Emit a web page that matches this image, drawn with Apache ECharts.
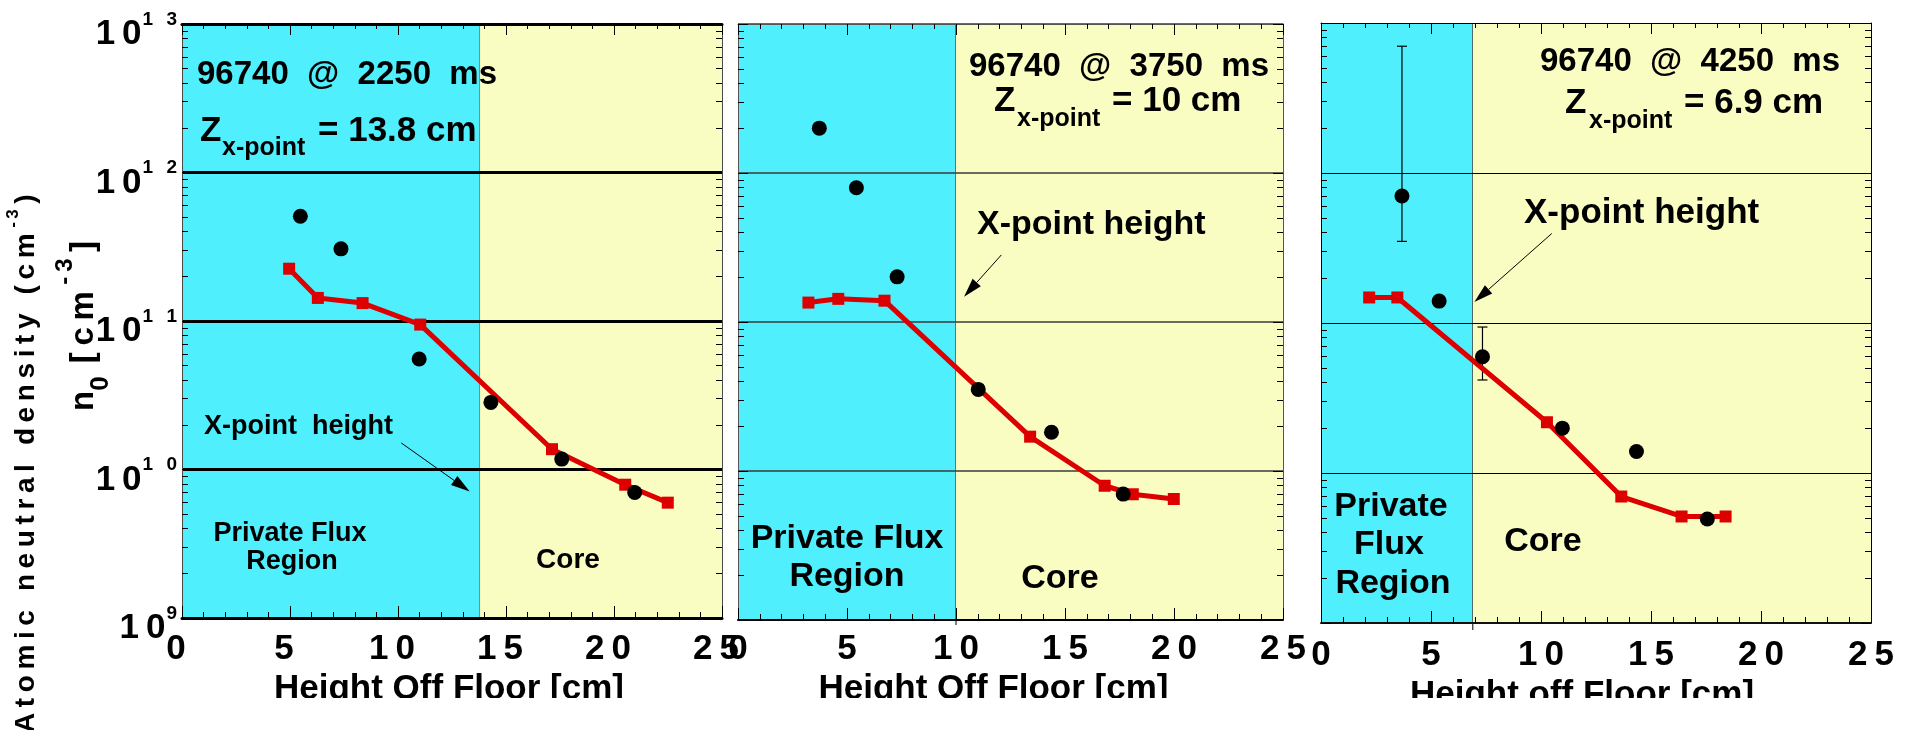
<!DOCTYPE html>
<html>
<head>
<meta charset="utf-8">
<title>Atomic neutral density vs height off floor, shot 96740</title>
<script src="https://cdn.jsdelivr.net/npm/echarts@6/dist/echarts.min.js"></script>
<style>
  html, body { margin: 0; padding: 0; background: #ffffff; }
  #chart { width: 1912px; height: 730px; }
</style>
</head>
<body>
<div id="chart"></div>
<script>
// ---- Shot 96740: height off floor [cm] vs atomic neutral density n0 [cm^-3] ----
const shot = '96740';
const timesMs = ['2250', '3750', '4250'];
const xpointCm = [13.8, 10, 6.9];          // X-point height of each time slice

// 2250 ms
const model2250X = [4.96, 6.29, 8.36, 11.03, 17.13, 20.52, 22.49];
const model2250N = [2.25e11, 1.43e11, 1.32e11, 9.46e10, 1.37e10, 7.9e9, 5.98e9];
const meas2250X  = [5.48, 7.36, 10.98, 14.30, 17.58, 20.96];
const meas2250N  = [5.08e11, 3.06e11, 5.55e10, 2.83e10, 1.175e10, 7.0e9];

// 3750 ms
const model3750X = [3.23, 4.60, 6.72, 13.40, 16.82, 18.11, 19.99];
const model3750N = [1.35e11, 1.43e11, 1.39e11, 1.70e10, 7.96e9, 6.98e9, 6.49e9];
const meas3750X  = [3.73, 5.43, 7.30, 11.02, 14.38, 17.67];
const meas3750N  = [2.0e12, 7.96e11, 2.01e11, 3.53e10, 1.82e10, 7.0e9];

// 4250 ms
const model4250X = [2.19, 3.47, 10.27, 13.65, 16.39, 18.39];
const model4250N = [1.48e11, 1.48e11, 2.18e10, 6.97e9, 5.13e9, 5.13e9];
const meas4250X  = [3.68, 5.37, 7.34, 10.97, 14.34, 17.56];
const meas4250N  = [7.03e11, 1.40e11, 5.96e10, 1.99e10, 1.39e10, 4.94e9];
const err4250X    = [3.68, 7.34];
const err4250Low  = [3.5e11, 4.17e10];
const err4250High = [7.0e12, 9.4e10];

// Axis ranges and the labelled density decades
const X_MIN = 0, X_MAX = 25, X_INTERVAL = 5;
const N_MIN = 1e9, N_MAX = 1e13;
const densityTicks = [1e9, 1e10, 1e11, 1e12, 1e13];

// "X-point height" pointer arrows: [from x, from n, to x, to n]
const arrow2250 = [10.15, 1.51e10, 13.32, 7.11e9];
const arrow3750 = [12.08, 2.82e11, 10.37, 1.48e11];
const arrow4250 = [10.49, 3.95e11, 6.97, 1.38e11];

// ---- Styling ----
const FONT = '"Liberation Sans", Arial, Helvetica, sans-serif';
const CYAN = '#4FEFFD';
const YELLOW = '#FAFDC2';
const RED = '#DD0000';
const THIN = '\u2009';
const MID = 0.25;   // distance from a text's middle line down to its baseline, in em

function pairs(xs, ys) { return xs.map((x, i) => [x, ys[i]]); }
function spaced(s, gap) { return Array.from(s).join(gap); }

const measureCtx = document.createElement('canvas').getContext('2d');
function textWidth(str, font) { measureCtx.font = font; return measureCtx.measureText(str).width; }

const panels = [
  {
    grid: { left: 182, top: 24, width: 540, height: 594 },
    model: pairs(model2250X, model2250N), meas: pairs(meas2250X, meas2250N), arrow: arrow2250,
    bottom: { color: '#000', width: 3 }, top: { color: '#000', width: 3 },
    side: { color: '#4a4a4a', width: 1 }, split: { color: '#000', width: 3 },
    divider: { color: '#3c3c3c', width: 1 }, dividerExt: 1,
    labelMargin: 14, labelPadding: [0, 12, 0, 0], nameGap: 49, namePadding: [0, 6, 0, 0],
    xName: 'Height Off Floor [cm]'
  },
  {
    grid: { left: 738, top: 24, width: 545, height: 596 },
    model: pairs(model3750X, model3750N), meas: pairs(meas3750X, meas3750N), arrow: arrow3750,
    bottom: { color: '#000', width: 2 }, top: { color: '#555', width: 1 },
    side: { color: '#555', width: 1 }, split: { color: '#3a3a3a', width: 1.5 },
    divider: { color: '#555', width: 1.5 }, dividerExt: 5,
    labelMargin: 12, labelPadding: 0, nameGap: 38, namePadding: [0, 34, 0, 0],
    xName: 'Height Off Floor [cm]'
  },
  {
    grid: { left: 1321, top: 23, width: 550, height: 600 },
    model: pairs(model4250X, model4250N), meas: pairs(meas4250X, meas4250N), arrow: arrow4250,
    bottom: { color: '#111', width: 2 }, top: { color: '#000', width: 1 },
    side: { color: '#000', width: 1 }, split: { color: '#000', width: 1 },
    divider: { color: '#000', width: 1 }, dividerExt: 7,
    labelMargin: 15, labelPadding: 0, nameGap: 50, namePadding: [0, 28, 0, 0],
    xName: 'Height off Floor [cm]'
  }
];

// Shaded private-flux / core regions and the X-point divider
function regionRenderer(p) {
  return function (params, api) {
    const a = api.coord([api.value(0), api.value(1)]);
    const b = api.coord([api.value(2), api.value(3)]);
    const rect = {
      type: 'rect',
      shape: { x: a[0], y: b[1], width: b[0] - a[0], height: a[1] - b[1] },
      style: { fill: params.dataIndex === 0 ? CYAN : YELLOW }
    };
    if (params.dataIndex !== 0) return rect;
    return {
      type: 'group',
      children: [rect, {
        type: 'line',
        shape: { x1: b[0], y1: b[1], x2: b[0], y2: a[1] + p.dividerExt },
        style: { stroke: p.divider.color, lineWidth: p.divider.width }
      }]
    };
  };
}

function arrowRenderer(params, api) {
  const s = api.coord([api.value(0), api.value(1)]);
  const t = api.coord([api.value(2), api.value(3)]);
  const dx = t[0] - s[0], dy = t[1] - s[1];
  const len = Math.hypot(dx, dy);
  const ux = dx / len, uy = dy / len;
  const head = 19, half = 5.5;
  const bx = t[0] - ux * head, by = t[1] - uy * head;
  return {
    type: 'group',
    children: [
      { type: 'line', shape: { x1: s[0], y1: s[1], x2: bx, y2: by }, style: { stroke: '#000', lineWidth: 1 } },
      { type: 'polygon', shape: { points: [[t[0], t[1]], [bx - uy * half, by + ux * half], [bx + uy * half, by - ux * half]] }, style: { fill: '#000' } }
    ]
  };
}

function errorBarRenderer(params, api) {
  const x = api.value(0);
  const lo = api.coord([x, api.value(1)]);
  const hi = api.coord([x, api.value(2)]);
  const c = 5;
  const st = { stroke: '#000', lineWidth: 1.2 };
  return {
    type: 'group',
    children: [
      { type: 'line', shape: { x1: lo[0], y1: lo[1], x2: hi[0], y2: hi[1] }, style: st },
      { type: 'line', shape: { x1: lo[0] - c, y1: lo[1], x2: lo[0] + c, y2: lo[1] }, style: st },
      { type: 'line', shape: { x1: hi[0] - c, y1: hi[1], x2: hi[0] + c, y2: hi[1] }, style: st }
    ]
  };
}

// Decade labels "10^n" beside the left axis of the first panel
const BASE_FONT = 'bold 35px ' + FONT;
const EXP_FONT = 'bold 19px ' + FONT;
function decadeLabelRenderer(params, api) {
  const v = api.value(1);
  const pt = api.coord([X_MIN, v]);
  const exp = spaced(String(Math.round(Math.log10(v))), '\u2002\u2009');
  const right = pt[0] - 5;
  const expW = textWidth(exp, EXP_FONT);
  return {
    type: 'group',
    children: [
      { type: 'text', x: right - expW - 1, y: pt[1] + 10.5,
        style: { text: spaced('10', THIN), font: BASE_FONT, fill: '#000', align: 'right', verticalAlign: 'middle' } },
      { type: 'text', x: right, y: pt[1] - 4.5,
        style: { text: exp, font: EXP_FONT, fill: '#000', align: 'right', verticalAlign: 'middle' } }
    ]
  };
}

const tickStyle = { color: '#000', width: 1 };
const option = {
  animation: false,
  backgroundColor: '#ffffff',
  grid: [], xAxis: [], yAxis: [], series: [], graphic: []
};

panels.forEach((p, i) => {
  option.grid.push(Object.assign({ show: false, containLabel: false, outerBoundsMode: 'none' }, p.grid));

  option.xAxis.push({
    type: 'value', gridIndex: i, position: 'bottom',
    min: X_MIN, max: X_MAX, interval: X_INTERVAL,
    axisLine: { show: true, onZero: false, lineStyle: p.bottom },
    axisTick: { show: true, inside: true, length: 12, lineStyle: tickStyle },
    minorTick: { show: true, splitNumber: 5, length: 6, lineStyle: tickStyle },
    splitLine: { show: false }, minorSplitLine: { show: false },
    axisLabel: {
      show: true, margin: p.labelMargin, padding: p.labelPadding,
      fontSize: 35, fontWeight: 'bold', fontFamily: FONT, color: '#000',
      formatter: v => spaced(String(v), THIN)
    },
    name: p.xName, nameLocation: 'middle', nameGap: p.nameGap,
    nameTextStyle: { fontSize: 35, fontWeight: 'bold', fontFamily: FONT, color: '#000', padding: p.namePadding }
  });
  option.xAxis.push({
    type: 'value', gridIndex: i, position: 'top',
    min: X_MIN, max: X_MAX, interval: X_INTERVAL,
    axisLine: { show: true, onZero: false, lineStyle: p.top },
    axisTick: { show: true, inside: true, length: 11, lineStyle: tickStyle },
    minorTick: { show: true, splitNumber: 5, length: 5, lineStyle: tickStyle },
    splitLine: { show: false }, axisLabel: { show: false }
  });

  option.yAxis.push({
    type: 'log', logBase: 10, gridIndex: i, position: 'left',
    min: N_MIN, max: N_MAX,
    axisLine: { show: true, onZero: false, lineStyle: p.side },
    axisTick: { show: true, inside: true, length: 10, lineStyle: tickStyle },
    minorTick: { show: true, splitNumber: 9, length: 6, lineStyle: tickStyle },
    splitLine: { show: true, lineStyle: p.split }, minorSplitLine: { show: false },
    axisLabel: { show: false }
  });
  option.yAxis.push({
    type: 'log', logBase: 10, gridIndex: i, position: 'right',
    min: N_MIN, max: N_MAX,
    axisLine: { show: true, onZero: false, lineStyle: p.side },
    axisTick: { show: true, inside: true, length: 10, lineStyle: tickStyle },
    minorTick: { show: true, splitNumber: 9, length: 6, lineStyle: tickStyle },
    splitLine: { show: false }, axisLabel: { show: false }
  });

  const xi = 2 * i, yi = 2 * i;
  option.series.push({
    type: 'custom', name: 'regions', xAxisIndex: xi, yAxisIndex: yi, z: -1, silent: true,
    encode: { x: [0, 2], y: [1, 3] },
    data: [[X_MIN, N_MIN, xpointCm[i], N_MAX], [xpointCm[i], N_MIN, X_MAX, N_MAX]],
    renderItem: regionRenderer(p)
  });
  option.series.push({
    type: 'line', name: 'model', xAxisIndex: xi, yAxisIndex: yi, z: 3,
    data: p.model, symbol: 'rect', symbolSize: 12, showSymbol: true,
    lineStyle: { color: RED, width: 5 }, itemStyle: { color: RED, opacity: 1 }
  });
  option.series.push({
    type: 'scatter', name: 'measured', xAxisIndex: xi, yAxisIndex: yi, z: 4,
    data: p.meas, symbol: 'circle', symbolSize: 15, itemStyle: { color: '#000', opacity: 1 }
  });
  option.series.push({
    type: 'custom', name: 'pointer', xAxisIndex: xi, yAxisIndex: yi, z: 5, silent: true,
    encode: { x: [0, 2], y: [1, 3] }, data: [p.arrow], renderItem: arrowRenderer
  });
});

option.series.push({
  type: 'custom', name: 'error', xAxisIndex: 4, yAxisIndex: 4, z: 3, silent: true,
  encode: { x: 0, y: [1, 2] },
  data: err4250X.map((x, k) => [x, err4250Low[k], err4250High[k]]),
  renderItem: errorBarRenderer
});

option.series.push({
  type: 'custom', name: 'decades', xAxisIndex: 0, yAxisIndex: 0, z: 6, silent: true, clip: false,
  encode: { x: 0, y: 1 },
  data: densityTicks.map(v => [X_MIN, v]),
  renderItem: decadeLabelRenderer
});

// ---- Annotation text ----
function txt(x, baseline, str, size, align) {
  return {
    type: 'text', x: x, y: baseline - MID * size, z: 50, silent: true,
    style: { text: str, font: 'bold ' + size + 'px ' + FONT, fill: '#000', align: align || 'left', verticalAlign: 'middle' }
  };
}
const line1 = t => shot + '  @  ' + t + '  ms';
const zval = z => '= ' + z + ' cm';

option.graphic.push(
  txt(197, 83, line1(timesMs[0]), 33),
  txt(200, 140, 'Z', 35), txt(222, 154, 'x-point', 25), txt(318, 140, zval(xpointCm[0]), 35),
  txt(204, 433, 'X-point  height', 27),
  txt(290, 540, 'Private Flux', 27, 'center'), txt(292, 568, 'Region', 27, 'center'),
  txt(568, 567, 'Core', 28, 'center'),

  txt(969, 75, line1(timesMs[1]), 33),
  txt(994, 110, 'Z', 35), txt(1017, 125, 'x-point', 25), txt(1112, 110, zval(xpointCm[1]), 35),
  txt(977, 233, 'X-point height', 34),
  txt(847, 547, 'Private Flux', 34, 'center'), txt(847, 585, 'Region', 34, 'center'),
  txt(1060, 587, 'Core', 34, 'center'),

  txt(1540, 70, line1(timesMs[2]), 33),
  txt(1565, 112, 'Z', 35), txt(1589, 127, 'x-point', 25), txt(1684, 112, zval(xpointCm[2]), 35),
  txt(1524, 222, 'X-point height', 35),
  txt(1391, 515, 'Private', 34, 'center'), txt(1389, 553, 'Flux', 34, 'center'),
  txt(1393, 592, 'Region', 34, 'center'),
  txt(1543, 550, 'Core', 34, 'center')
);

// Vertical axis titles (baselines at x = 33 and x = 92)
option.graphic.push({
  type: 'text', x: 33 - MID * 28, y: 733, rotation: Math.PI / 2, z: 50, silent: true,
  style: {
    text: '{t|' + spaced('Atomic neutral density (cm', THIN) + THIN + '}{sup|' + spaced('-3', THIN) + '}{t|' + THIN + ')}',
    align: 'left', verticalAlign: 'middle',
    rich: {
      t: { fontSize: 28, fontWeight: 'bold', fontFamily: FONT, fill: '#000', lineHeight: 42 },
      sup: { fontSize: 17, fontWeight: 'bold', fontFamily: FONT, fill: '#000', lineHeight: 24, verticalAlign: 'top' }
    }
  }
});
option.graphic.push({
  type: 'text', x: 92 - MID * 33, y: 411, rotation: Math.PI / 2, z: 50, silent: true,
  style: {
    text: '{t|n}{sub|0}{t|' + THIN + THIN + spaced('[cm', THIN) + THIN + '}{sup|' + spaced('-3', THIN) + '}{t|' + THIN + ']}',
    align: 'left', verticalAlign: 'middle',
    rich: {
      t: { fontSize: 33, fontWeight: 'bold', fontFamily: FONT, fill: '#000', lineHeight: 60 },
      sub: { fontSize: 26, fontWeight: 'bold', fontFamily: FONT, fill: '#000', lineHeight: 26, verticalAlign: 'bottom' },
      sup: { fontSize: 24, fontWeight: 'bold', fontFamily: FONT, fill: '#000', lineHeight: 42, verticalAlign: 'top' }
    }
  }
});

// Bottom edge of the figure trims the lowest text line
option.graphic.push({
  type: 'rect', x: 95, y: 698, z: 100, silent: true,
  shape: { width: 1817, height: 32 }, style: { fill: '#ffffff' }
});

const chart = echarts.init(document.getElementById('chart'), null, { renderer: 'canvas' });
chart.setOption(option);
</script>
</body>
</html>
